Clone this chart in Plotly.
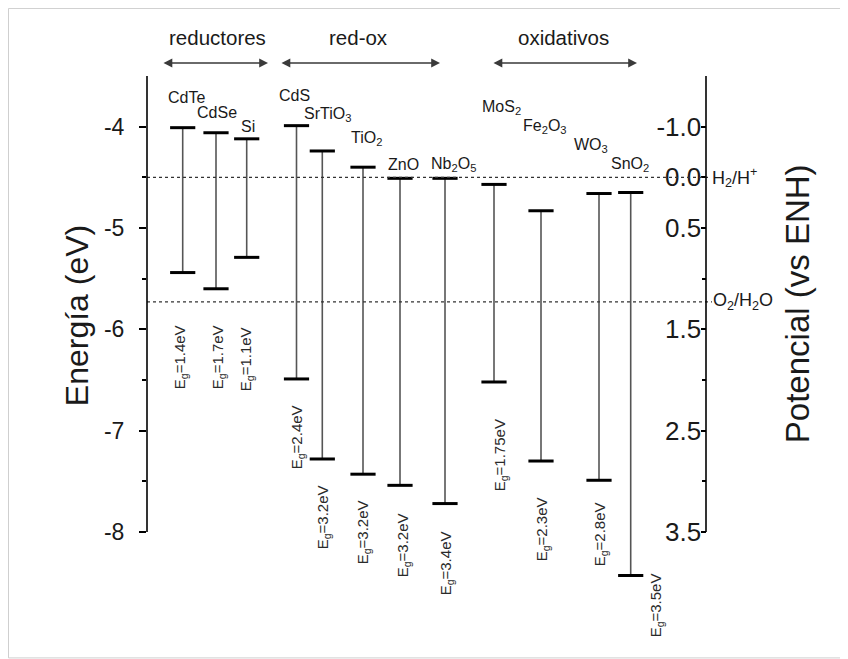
import plotly.graph_objects as go

# ---------------- data ----------------
materials = ["CdTe", "CdSe", "Si", "CdS", "SrTiO3", "TiO2", "ZnO", "Nb2O5",
             "MoS2", "Fe2O3", "WO3", "SnO2"]
material_labels = ["CdTe", "CdSe", "Si", "CdS", "SrTiO<sub>3</sub>", "TiO<sub>2</sub>",
                   "ZnO", "Nb<sub>2</sub>O<sub>5</sub>", "MoS<sub>2</sub>",
                   "Fe<sub>2</sub>O<sub>3</sub>", "WO<sub>3</sub>", "SnO<sub>2</sub>"]
conduction_band = [-4.01, -4.06, -4.12, -3.99, -4.24, -4.40, -4.51, -4.51,
                   -4.57, -4.83, -4.66, -4.65]
valence_band = [-5.44, -5.60, -5.29, -6.49, -7.28, -7.43, -7.54, -7.72,
                -6.52, -7.30, -7.49, -8.43]
band_gap = ["1.4", "1.7", "1.1", "2.4", "3.2", "3.2", "3.2", "3.4",
            "1.75", "2.3", "2.8", "3.5"]
material_x = [35.7, 69, 99.7, 149.5, 175.3, 216, 253, 298, 347, 394, 452, 483.7]

energy_ticks = [-4, -5, -6, -7, -8]
energy_minor = [-4.5, -5.5, -6.5, -7.5]
potential_tickvals = [-4, -4.5, -5, -6, -7, -8]
potential_ticktext = ["-1.0", "0.0", "0.5", "1.5", "2.5", "3.5"]
potential_minor = [-5.5, -6.5, -7.5]
h2_level = -4.5
o2_level = -5.73

groups = ["reductores", "red-ox", "oxidativos"]

# ---------------- layout helpers ----------------
# the page body has an 8px margin: the figure is drawn 8px right/down
PAGE_OFF = 8
W, H = 848 - PAGE_OFF, 659 - PAGE_OFF
AX_L_REF, AX_T_REF = 147, 76          # reference pixel of left axis / top of axes
PX_PER_EV = 101.25
Y_TOP, Y_BOT = -3.5, -8.8
plot_h = (Y_TOP - Y_BOT) * PX_PER_EV
plot_w = 559
L = AX_L_REF - PAGE_OFF
T = AX_T_REF - PAGE_OFF
R = W - L - plot_w
B = H - T - plot_h


def xd(px):          # reference pixel -> data x
    return px - AX_L_REF


def yd(py):          # reference pixel -> data y
    return Y_TOP - (py - AX_T_REF) / PX_PER_EV


def xp(px):          # reference pixel -> paper x
    return (px - AX_L_REF) / plot_w


def yp(py):          # reference pixel -> paper y
    return (AX_T_REF + plot_h - py) / plot_h


# label positions (reference pixel centres)
name_px = [(186, 97), (217, 112), (248, 126), (294, 95), (327, 114), (366, 138),
           (403, 164), (453, 164), (501, 107), (545, 126), (591, 145), (630, 164)]
eg_px = [(180, 357), (218, 357), (246, 359), (297, 437), (323, 517), (363, 532),
         (403, 545), (446, 563), (500, 455), (542, 529), (600, 534), (656, 605)]
group_px = [(217, 38), (358, 38), (563, 38)]
arrow_px = [(162, 268), (280, 440), (492, 637)]
ARROW_Y = 63

FONT = "Liberation Sans, Arial, sans-serif"
LINE_COL = "#555555"
TXT = "#1a1a1a"

fig = go.Figure()

# vertical band lines
vx, vy = [], []
for x, cb, vb in zip(material_x, conduction_band, valence_band):
    vx += [x, x, None]
    vy += [cb, vb, None]
fig.add_trace(go.Scatter(x=vx, y=vy, mode="lines",
                         line=dict(color=LINE_COL, width=1.6),
                         hoverinfo="skip", showlegend=False))
# caps
fig.add_trace(go.Scatter(x=material_x + material_x, y=conduction_band + valence_band,
                         mode="markers",
                         marker=dict(symbol="line-ew", size=18,
                                     line=dict(color="black", width=3)),
                         hoverinfo="skip", showlegend=False, cliponaxis=False))
# invisible trace for right axis
fig.add_trace(go.Scatter(x=[0], y=[-4], yaxis="y2", mode="markers",
                         marker=dict(opacity=0), hoverinfo="skip", showlegend=False))

annotations = []
for lab, (px, py) in zip(material_labels, name_px):
    annotations.append(dict(x=xd(px), y=yd(py), xref="x", yref="y", text=lab,
                            showarrow=False, xanchor="center", yanchor="middle",
                            font=dict(family=FONT, size=16, color=TXT)))
for eg, (px, py) in zip(band_gap, eg_px):
    annotations.append(dict(x=xp(px), y=yp(py), xref="paper", yref="paper",
                            text="E<sub>g</sub>=" + eg + "eV", textangle=-90,
                            showarrow=False, xanchor="center", yanchor="middle",
                            font=dict(family=FONT, size=15, color="#2a2a2a")))
for g, (px, py) in zip(groups, group_px):
    annotations.append(dict(x=xp(px), y=yp(py), xref="paper", yref="paper", text=g,
                            showarrow=False, xanchor="center", yanchor="middle",
                            font=dict(family=FONT, size=20.5, color=TXT)))
for (x0, x1) in arrow_px:
    annotations.append(dict(x=xp(x1), y=yp(ARROW_Y), xref="paper", yref="paper",
                            ax=x0 - x1, ay=0, text="",
                            showarrow=True, arrowhead=2, arrowside="end+start",
                            arrowsize=1.1, arrowwidth=1.6, arrowcolor="#3a3a3a"))
# reference levels labels
annotations.append(dict(x=xp(710), y=h2_level, xref="paper", yref="y",
                        text="H<sub>2</sub>/H<sup>+</sup>", showarrow=False,
                        xanchor="left", yanchor="middle",
                        font=dict(family=FONT, size=18, color=TXT)))
annotations.append(dict(x=xp(711), y=o2_level, xref="paper", yref="y",
                        text="O<sub>2</sub>/H<sub>2</sub>O", showarrow=False,
                        xanchor="left", yanchor="middle",
                        font=dict(family=FONT, size=18, color=TXT)))
# axis titles
annotations.append(dict(x=xp(77), y=yp(316), xref="paper", yref="paper",
                        text="Energía (eV)", textangle=-90, showarrow=False,
                        xanchor="center", yanchor="middle",
                        font=dict(family=FONT, size=32, color=TXT)))
annotations.append(dict(x=xp(797), y=yp(304), xref="paper", yref="paper",
                        text="Potencial (vs ENH)", textangle=-90, showarrow=False,
                        xanchor="center", yanchor="middle",
                        font=dict(family=FONT, size=33, color=TXT)))

shapes = [
    # dotted reference lines
    dict(type="line", xref="paper", yref="y", x0=0, x1=xp(710), y0=h2_level, y1=h2_level,
         line=dict(color="#333", width=1.2, dash="dot")),
    dict(type="line", xref="paper", yref="y", x0=0, x1=xp(712), y0=o2_level, y1=o2_level,
         line=dict(color="#333", width=1.2, dash="dot")),
    # axis lines
    dict(type="line", xref="paper", yref="y", x0=0, x1=0, y0=-8, y1=-3.5,
         line=dict(color="black", width=1.6)),
    dict(type="line", xref="paper", yref="y", x0=1, x1=1, y0=-8, y1=-3.5,
         line=dict(color="black", width=1.6)),
    # outer frame
    dict(type="rect", xref="paper", yref="paper",
         x0=xp(PAGE_OFF + 0.5), x1=xp(846.5), y0=yp(657.5), y1=yp(PAGE_OFF + 0.5),
         line=dict(color="#cfcfcf", width=1)),
]

fig.update_layout(
    width=W, height=H,
    margin=dict(l=L, r=R, t=T, b=B, pad=0),
    paper_bgcolor="white", plot_bgcolor="white",
    showlegend=False,
    font=dict(family=FONT, color=TXT),
    xaxis=dict(range=[0, plot_w], visible=False, fixedrange=True),
    yaxis=dict(range=[Y_BOT, Y_TOP], showline=False, showgrid=False, zeroline=False,
               tickvals=energy_ticks, ticktext=[str(v) for v in energy_ticks],
               ticks="outside", ticklen=7, tickwidth=1.5, tickcolor="black",
               ticklabelstandoff=10,
               tickfont=dict(family=FONT, size=23, color=TXT),
               minor=dict(tickvals=energy_minor, ticks="outside",
                          ticklen=4, tickwidth=1.5, tickcolor="black"),
               fixedrange=True),
    yaxis2=dict(range=[Y_BOT, Y_TOP], overlaying="y", side="right",
                showline=False, showgrid=False, zeroline=False,
                tickvals=potential_tickvals, ticktext=potential_ticktext,
                ticks="inside", ticklen=5, tickwidth=1.5, tickcolor="black",
                ticklabelposition="inside", ticklabelstandoff=2,
                tickfont=dict(family=FONT, size=26, color=TXT),
                minor=dict(tickvals=potential_minor, ticks="inside",
                           ticklen=4, tickwidth=1.5, tickcolor="black"),
                fixedrange=True),
    annotations=annotations,
    shapes=shapes,
)

fig.write_html("out.html")
